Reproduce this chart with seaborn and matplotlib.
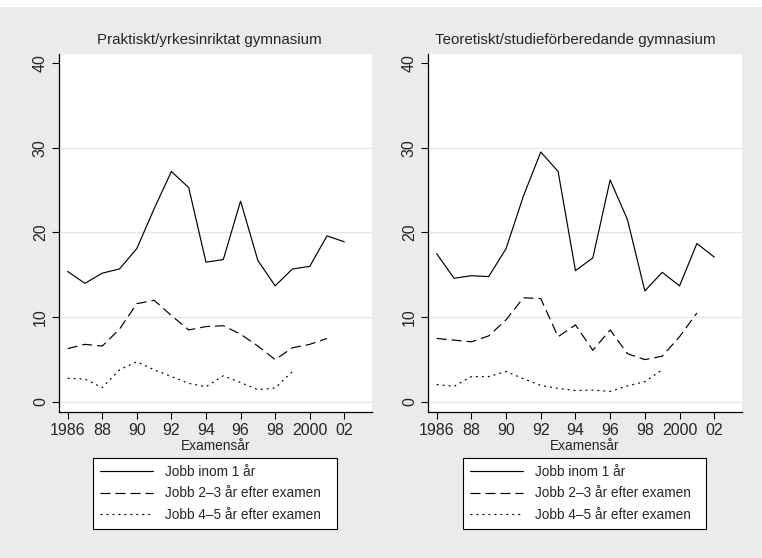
import matplotlib
matplotlib.use("Agg")
import matplotlib.pyplot as plt
import seaborn as sns
import pandas as pd
from matplotlib.patches import Rectangle
from matplotlib.lines import Line2D
from matplotlib import font_manager

sns.set_style("white")
names = {f.name for f in font_manager.fontManager.ttflist}
fam = [f for f in ["Liberation Sans Narrow", "Liberation Sans", "DejaVu Sans"] if f in names]
plt.rcParams["font.family"] = fam
plt.rcParams["lines.scale_dashes"] = False

years = list(range(1986, 2003))

# Praktiskt/yrkesinriktat gymnasium
prak_1 = [15.4, 14.0, 15.2, 15.7, 18.1, 22.8, 27.2, 25.3, 16.5, 16.8, 23.7, 16.7, 13.7, 15.7, 16.0, 19.6, 18.9]
prak_23 = [6.3, 6.8, 6.6, 8.6, 11.6, 12.0, 10.2, 8.5, 8.9, 9.0, 8.0, 6.6, 5.0, 6.4, 6.8, 7.5]
prak_45 = [2.8, 2.7, 1.7, 3.8, 4.75, 3.8, 3.0, 2.2, 1.8, 3.1, 2.3, 1.45, 1.65, 3.6]

# Teoretiskt/studieförberedande gymnasium
teor_1 = [17.5, 14.6, 14.9, 14.8, 18.1, 24.3, 29.5, 27.2, 15.5, 17.0, 26.2, 21.5, 13.1, 15.3, 13.7, 18.7, 17.1]
teor_23 = [7.5, 7.3, 7.1, 7.8, 9.7, 12.3, 12.2, 7.7, 9.1, 6.1, 8.5, 5.7, 5.0, 5.4, 7.7, 10.5]
teor_45 = [2.05, 1.85, 3.0, 3.0, 3.6, 2.75, 1.95, 1.6, 1.35, 1.4, 1.25, 1.9, 2.4, 3.8]

series_names = ["Jobb inom 1 år", "Jobb 2\u20133 år efter examen", "Jobb 4\u20135 år efter examen"]
titles = ["Praktiskt/yrkesinriktat gymnasium", "Teoretiskt/studieförberedande gymnasium"]
xtick_vals = [1986, 1988, 1990, 1992, 1994, 1996, 1998, 2000, 2002]
xtick_labels = ["1986", "88", "90", "92", "94", "96", "98", "2000", "02"]
ytick_vals = [0, 10, 20, 30, 40]


def make_df(s1, s2, s3):
    rows = []
    for name, vals in zip(series_names, [s1, s2, s3]):
        for y, v in zip(years, vals):
            rows.append({"year": y, "value": v, "serie": name})
    return pd.DataFrame(rows)


dfs = [make_df(prak_1, prak_23, prak_45), make_df(teor_1, teor_23, teor_45)]

bg = "#ebebeb"
fig = plt.figure(figsize=(7.62, 5.58), dpi=100, facecolor=bg)
fig.patches.append(Rectangle((0, 1 - 7 / 558), 1, 7 / 558, transform=fig.transFigure,
                             facecolor="white", edgecolor="none", zorder=-1))

W, H = 762, 558
positions = [(59, 313), (428, 314)]
title_x = [209, 575]
dash_map = {series_names[0]: "", series_names[1]: (7.2, 3.6), series_names[2]: (1.4, 2.9)}
fs_tick = 11.5
fs_title = 10.9
fs_leg = 9.8
fs_xlab = 9.9

for i, df in enumerate(dfs):
    x0, w = positions[i]
    ax = fig.add_axes([x0 / W, 1 - 412 / H, w / W, 358 / H])
    ax.set_facecolor("white")
    ax.set_axisbelow(True)
    for yv in [0, 10, 20, 30]:
        ax.axhline(yv, color="#e6e6e6", lw=1.0, zorder=0)
    sns.lineplot(data=df, x="year", y="value", style="serie", style_order=series_names,
                 dashes=dash_map, color="black", lw=0.85, ax=ax, legend=False)
    ax.set_xlim(1985.5, 2003.6)
    ax.set_ylim(-1.18, 41.06)
    ax.set_xticks(xtick_vals)
    ax.set_xticklabels(xtick_labels, fontsize=fs_tick)
    ax.set_yticks(ytick_vals)
    ax.set_yticklabels([str(v) for v in ytick_vals], fontsize=fs_tick, rotation=90, va="center")
    ax.tick_params(axis="both", direction="out", length=5, width=0.8, color="black", pad=3,
                   left=True, bottom=True)
    for s in ["top", "right"]:
        ax.spines[s].set_visible(False)
    for s in ["left", "bottom"]:
        ax.spines[s].set_color("black")
        ax.spines[s].set_linewidth(0.9)
    ax.set_xlabel("Examensår", fontsize=fs_xlab, labelpad=1)
    ax.set_ylabel("")
    fig.text(title_x[i] / W, 1 - 40 / H, titles[i], fontsize=fs_title, ha="center", va="center")
    handles = [Line2D([], [], color="black", lw=0.85, linestyle="-"),
               Line2D([], [], color="black", lw=0.85, dashes=dash_map[series_names[1]]),
               Line2D([], [], color="black", lw=0.85, dashes=dash_map[series_names[2]])]
    lx0 = 93 if i == 0 else 463
    lx1 = 337 if i == 0 else 706
    bbox = ((lx0 - x0) / w, (412 - 529) / 358, (lx1 - lx0) / w, 71 / 358)
    leg = ax.legend(handles, series_names, loc="upper left", bbox_to_anchor=bbox, mode="expand",
                    frameon=True, fancybox=False, fontsize=fs_leg, handlelength=3.9,
                    handletextpad=0.9, labelspacing=0.55, borderpad=0.5, borderaxespad=0)
    fr = leg.get_frame()
    fr.set_edgecolor("black")
    fr.set_facecolor("white")
    fr.set_linewidth(0.8)
    fr.set_alpha(1)

fig.savefig("out.png", dpi=100, facecolor=bg)
